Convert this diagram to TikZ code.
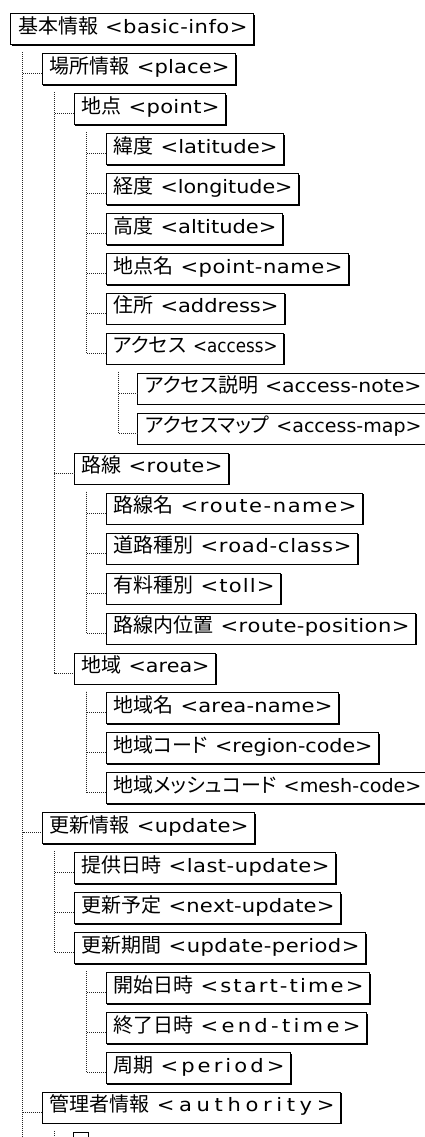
\documentclass[tikz,border=0pt]{standalone}
\usepackage{fontspec}
\usepackage{graphicx}
\usetikzlibrary{shadows}
\newfontfamily\cjkf[RawFeature=+palt]{Noto Sans CJK JP}
\newfontfamily\latf{DejaVu Sans}
\newlength\cjkwd
\newlength\latwd
\newlength\natw
\newlength\innerw
\def\spreadaux#1{\ifx#1\relax\else#1\hskip0pt plus1fil minus1fil\relax\expandafter\spreadaux\fi}
\newcommand\spreadchars[1]{\spreadaux#1\relax}
\newcommand\latsize{\latf\fontsize{18.5}{20}\selectfont}
\newcommand\cjksize{\cjkf\fontsize{20}{22}\selectfont}
\newcommand\lab[3]{%
  \settowidth\cjkwd{\cjksize #2\hspace{7pt}}%
  \setlength\latwd{\dimexpr #1-\cjkwd\relax}%
  \settowidth\natw{\latsize #3}%
  \pgfmathsetmacro\lsc{min(max(\latwd/\natw,0.9),1.14)}%
  \pgfmathsetlength\innerw{\latwd/\lsc}%
  {\cjksize #2}\hspace{7pt}\scalebox{\lsc}[1]{\hbox to\innerw{\latsize\spreadchars{#3}\unskip}}}
\tikzset{
  box/.style={draw=black, line width=1pt, fill=white, inner sep=0pt, anchor=north west,
    text height=19.5pt, text depth=11.5pt,
    drop shadow={shadow xshift=1pt, shadow yshift=-1pt, opacity=1, fill=black}},
  conn/.style={line width=1pt, dash pattern=on 1pt off 1pt, black!85}
}
\newcommand\treeentry[6]{%
  \pgfmathsetmacro\eL{10+31.85*#2}%
  \pgfmathsetmacro\eT{13.3+39.95*(#3-1)}%
  \pgfmathsetmacro\eW{#4-\eL}%
  \node[box, minimum width=\eW pt] (#1) at (\eL,\eT) {\hspace*{7.5pt}\lab{\eW pt-13.5pt}{#5}{#6}\hspace*{6pt}};}
\newcommand\tlink[2]{\draw[conn] ([xshift=12.7pt,yshift=-7pt]#1.south west) |- ([yshift=-20.5pt]#2.north west);}
\begin{document}
\begin{tikzpicture}[x=1pt, y=-1pt]
\useasboundingbox (0,0) rectangle (424,1137);
\treeentry{basic}{0}{1}{253}{基本情報}{<basic-info>}
\treeentry{place}{1}{2}{235}{場所情報}{<place>}
\treeentry{point}{2}{3}{225}{地点}{<point>}
\treeentry{lat}{3}{4}{283}{緯度}{<latitude>}
\treeentry{lon}{3}{5}{298}{経度}{<longitude>}
\treeentry{alt}{3}{6}{282}{高度}{<altitude>}
\treeentry{pname}{3}{7}{348}{地点名}{<point-name>}
\treeentry{addr}{3}{8}{284}{住所}{<address>}
\treeentry{access}{3}{9}{283}{アクセス}{<access>}
\treeentry{anote}{4}{10}{427}{アクセス説明}{<access-note>}
\treeentry{amap}{4}{11}{427}{アクセスマップ}{<access-map>}
\treeentry{route}{2}{12}{228}{路線}{<route>}
\treeentry{rname}{3}{13}{362}{路線名}{<route-name>}
\treeentry{rclass}{3}{14}{357}{道路種別}{<road-class>}
\treeentry{toll}{3}{15}{280}{有料種別}{<toll>}
\treeentry{rpos}{3}{16}{415}{路線内位置}{<route-position>}
\treeentry{area}{2}{17}{215}{地域}{<area>}
\treeentry{aname}{3}{18}{338}{地域名}{<area-name>}
\treeentry{rcode}{3}{19}{378}{地域コード}{<region-code>}
\treeentry{mesh}{3}{20}{427}{地域メッシュコード}{<mesh-code>}
\treeentry{update}{1}{21}{254}{更新情報}{<update>}
\treeentry{lastup}{2}{22}{335}{提供日時}{<last-update>}
\treeentry{nextup}{2}{23}{340}{更新予定}{<next-update>}
\treeentry{uperiod}{2}{24}{365}{更新期間}{<update-period>}
\treeentry{start}{3}{25}{369}{開始日時}{<start-time>}
\treeentry{end}{3}{26}{366}{終了日時}{<end-time>}
\treeentry{period}{3}{27}{290}{周期}{<period>}
\treeentry{auth}{1}{28}{340}{管理者情報}{<authority>}
\node[box, minimum width=14.5pt] (authchild) at (73.4,{13.3+39.95*28}) {};
% connectors
\coordinate (basicend) at (22.7,1145);
\draw[conn] ([xshift=12.7pt,yshift=-7pt]basic.south west) -- (basicend);
\tlink{basic}{place}
\tlink{basic}{update}
\tlink{basic}{auth}
\tlink{place}{point}
\tlink{place}{route}
\tlink{place}{area}
\tlink{point}{lat}
\tlink{point}{lon}
\tlink{point}{alt}
\tlink{point}{pname}
\tlink{point}{addr}
\tlink{point}{access}
\tlink{access}{anote}
\tlink{access}{amap}
\tlink{route}{rname}
\tlink{route}{rclass}
\tlink{route}{toll}
\tlink{route}{rpos}
\tlink{area}{aname}
\tlink{area}{rcode}
\tlink{area}{mesh}
\tlink{update}{lastup}
\tlink{update}{nextup}
\tlink{update}{uperiod}
\tlink{uperiod}{start}
\tlink{uperiod}{end}
\tlink{uperiod}{period}
\tlink{auth}{authchild}
\end{tikzpicture}
\end{document}
